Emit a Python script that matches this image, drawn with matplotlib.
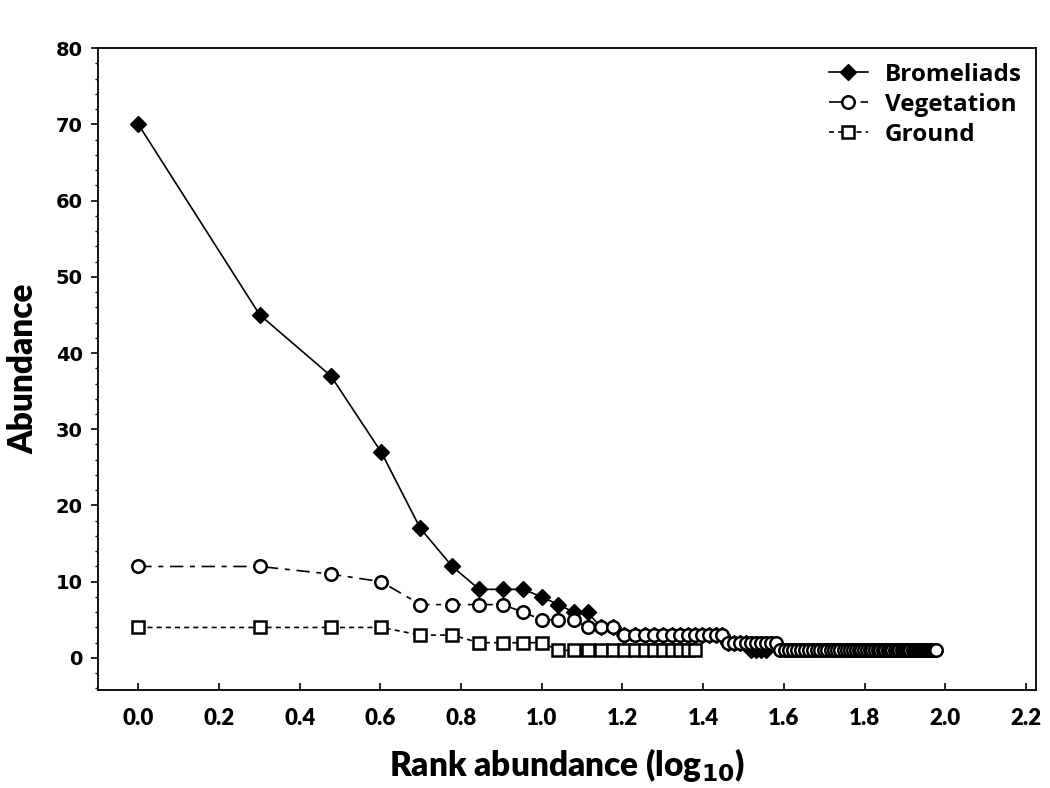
import numpy as np
import matplotlib
import matplotlib.pyplot as plt
from matplotlib.ticker import MultipleLocator

matplotlib.use('Agg')

# Abundance per species, sorted by rank (x = log10(rank))
bromeliads = [70, 45, 37, 27, 17, 12, 9, 9, 9, 8, 7, 6, 6,
              4, 4, 3, 3, 3, 3, 3, 3, 3, 3, 3, 3, 3, 3, 3,
              2, 2, 2, 2, 1, 1, 1, 1]
vegetation = ([12, 12, 11, 10, 7, 7, 7, 7, 6, 5, 5, 5, 4, 4, 4]
              + [3] * 13 + [2] * 10 + [1] * 57)
ground = [4, 4, 4, 4, 3, 3, 2, 2, 2, 2] + [1] * 14

x_ticks = [0.0, 0.2, 0.4, 0.6, 0.8, 1.0, 1.2, 1.4, 1.6, 1.8, 2.0, 2.2]
y_ticks = [0, 10, 20, 30, 40, 50, 60, 70, 80]


def log_rank(values):
    return np.log10(np.arange(1, len(values) + 1))


fig = plt.figure(figsize=(10.5, 7.88), dpi=100)
ax = fig.add_axes([0.0933, 0.1244, 0.8934, 0.8146])

ax.plot(log_rank(bromeliads), bromeliads, color='black', lw=1.2, ls='-',
        marker='D', markersize=8, markerfacecolor='black', label='Bromeliads', zorder=2)
ax.plot(log_rank(vegetation), vegetation, color='black', lw=1.2, ls=(0, (8, 4, 3, 4)),
        marker='o', markersize=9, markerfacecolor='white', markeredgewidth=1.8,
        label='Vegetation', zorder=3)
ax.plot(log_rank(ground), ground, color='black', lw=1.2, ls=(0, (3, 2.5)),
        marker='s', markersize=8.5, markerfacecolor='white', markeredgewidth=1.8,
        label='Ground', zorder=2)

ax.set_xlim(-0.1, 2.225)
ax.set_ylim(-4.2, 80)
ax.set_xticks(x_ticks)
ax.set_xticklabels([f'{v:.1f}' for v in x_ticks], fontfamily='Lato', fontweight='heavy', fontsize=16)
ax.set_yticks(y_ticks)
ax.set_yticklabels([str(v) for v in y_ticks], fontfamily='DejaVu Sans', fontweight='bold', fontsize=14)
ax.yaxis.set_minor_locator(MultipleLocator(2))
ax.tick_params(axis='x', direction='in', length=5, width=1.2, pad=13)
ax.tick_params(axis='y', direction='out', length=5, width=1.2, pad=6)
ax.tick_params(axis='y', which='minor', direction='out', length=2.5, width=1)
for s in ax.spines.values():
    s.set_linewidth(1.3)

ax.set_xlabel('Rank abundance (log$_{\\mathbf{10}}$)', fontfamily='Lato',
              fontweight='heavy', fontsize=24, labelpad=12)
ax.set_ylabel('Abundance', fontfamily='Lato', fontweight='heavy', fontsize=24, labelpad=12)

leg = ax.legend(loc='upper right', frameon=False, handlelength=1.6,
                prop={'family': 'Open Sans', 'weight': 'bold', 'size': 17.5},
                borderaxespad=0.2, labelspacing=0.25, handletextpad=0.7)

fig.savefig('out.png', dpi=100)
